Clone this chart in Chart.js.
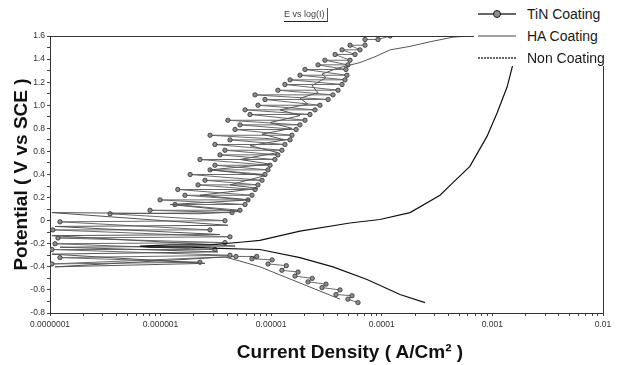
<!DOCTYPE html>
<html>
<head>
<meta charset="utf-8">
<script src="https://cdn.jsdelivr.net/npm/chart.js@4.4.1/dist/chart.umd.min.js"></script>
<style>
  html, body { margin: 0; padding: 0; background: #fff; }
  #wrap { position: relative; width: 620px; height: 365px; overflow: hidden; }
  #plotTitle { position: absolute; left: 284px; top: 8px; font: 9px "Liberation Sans", Arial, sans-serif; color: #444;
    border-bottom: 1.5px solid #222; border-right: 1px solid #555; padding: 0 2px 1px 0; line-height: 12px; }
  #xTitle { position: absolute; left: 350px; top: 340px; transform: translateX(-50%); white-space: nowrap;
    font: bold 19px "Liberation Sans", Arial, sans-serif; color: #111; line-height: 24px; }
  #legend { position: absolute; left: 474px; top: 0; width: 146px; height: 66px; background: #fff; }
  .lg-row { position: absolute; left: 0; height: 20px; width: 146px; }
  .lg-row svg { position: absolute; left: 2px; top: 0; }
  .lg-row span { position: absolute; left: 53px; top: 1px; font: 14px "Liberation Sans", Arial, sans-serif; color: #1a1a1a; white-space: nowrap; line-height: 18px; }
</style>
</head>
<body>
<div id="wrap">
  <canvas id="c" width="620" height="365"></canvas>
  <div id="plotTitle">E vs log(I)</div>
  <div id="xTitle">Current Density ( A/Cm² )</div>
  <div id="legend"></div>
</div>
<script>
// ---- Data (current density A/cm², potential V vs SCE) ----
const seriesNames = ['TiN Coating', 'HA Coating', 'Non Coating'];

const tinCurrent = [
  6.09e-5, 4.94e-5, 5.38e-5, 3.85e-5, 4.19e-5, 2.88e-5, 3.13e-5, 2.15e-5, 2.35e-5, 1.64e-5,
  1.75e-5, 1.25e-5, 1.37e-5, 9.36e-6, 1.02e-5, 6.7e-6, 7.4e-6, 4.8e-6,
  1.04e-7, 2.27e-6, 1.23e-7, 4.24e-6, 1.04e-7, 3.1e-6, 1.11e-7, 3.82e-6, 1.18e-7, 4.24e-6,
  1.06e-7, 2.8e-6, 1.23e-7, 3.82e-6, 3.49e-7, 4.43e-6,
  8.02e-7, 5.22e-6, 1.35e-6, 5.80e-6, 9.88e-7, 6.17e-6, 1.66e-6, 6.70e-6, 1.43e-6, 7.14e-6,
  2.18e-6, 7.6e-6, 2.52e-6, 8.26e-6, 1.85e-6, 8.79e-6, 2.80e-6, 9.36e-6, 3.10e-6, 9.76e-6,
  2.27e-6, 1.08e-5, 3.44e-6, 1.15e-5, 3.82e-6, 1.25e-5, 3.10e-6, 1.33e-5, 4.24e-6, 1.48e-5,
  2.80e-6, 1.54e-5, 4.71e-6, 1.68e-5, 5.22e-6, 1.82e-5, 4.06e-6, 2.02e-5, 6.43e-6, 2.24e-5,
  5.80e-6, 2.49e-5, 7.6e-6, 2.76e-5, 8.79e-6, 3.27e-5, 7.14e-6, 3.62e-5, 1.15e-5, 4.02e-5,
  1.33e-5, 4.37e-5, 1.48e-5, 4.65e-5, 1.82e-5, 4.84e-5, 2.02e-5, 4.74e-5, 2.65e-5, 4.94e-5,
  3.06e-5, 5.16e-5, 3.78e-5, 5.73e-5, 4.37e-5, 6.35e-5, 5.16e-5, 7.05e-5, 7.05e-5, 9.24e-5,
  1.19e-4
];
const tinPotential = [
  -0.71, -0.68, -0.65, -0.64, -0.60, -0.58, -0.55, -0.53, -0.50, -0.48,
  -0.445, -0.43, -0.39, -0.375, -0.34, -0.33, -0.31, -0.31,
  -0.375, -0.36, -0.32, -0.30, -0.25, -0.25, -0.20, -0.19, -0.15, -0.14,
  -0.08, -0.08, -0.01, 0.00, 0.06, 0.07,
  0.09, 0.09, 0.14, 0.14, 0.18, 0.18, 0.22, 0.22, 0.27, 0.27,
  0.31, 0.31, 0.35, 0.35, 0.40, 0.40, 0.44, 0.44, 0.48, 0.48,
  0.53, 0.53, 0.57, 0.57, 0.61, 0.61, 0.66, 0.66, 0.70, 0.70,
  0.74, 0.74, 0.79, 0.79, 0.83, 0.83, 0.87, 0.87, 0.92, 0.92,
  0.96, 0.96, 1.00, 1.00, 1.05, 1.05, 1.09, 1.09, 1.13, 1.13,
  1.18, 1.18, 1.22, 1.22, 1.26, 1.26, 1.31, 1.31, 1.35, 1.35,
  1.39, 1.39, 1.44, 1.44, 1.48, 1.48, 1.52, 1.52, 1.57, 1.57,
  1.60
];

const haCurrent = [
  4.19e-5, 2.76e-5, 1.82e-5, 1.2e-5, 7.92e-6, 5.22e-6, 3.82e-6,
  1.11e-7, 2.52e-6, 1.04e-7, 3.30e-6, 1.23e-7, 4.71e-6, 1.04e-7, 3.44e-6, 1.11e-7, 4.06e-6,
  1.04e-7, 2.27e-6,
  5.22e-6, 1.22e-6, 6.43e-6, 2.27e-6, 7.6e-6, 4.24e-6, 8.79e-6, 2.8e-6, 9.76e-6, 5.22e-6,
  1.15e-5, 6.43e-6, 1.33e-5, 8.26e-6, 1.54e-5, 9.76e-6, 1.82e-5, 1.2e-5, 2.15e-5, 1.82e-5,
  2.65e-5, 2.34e-5, 3.13e-5, 2.88e-5, 3.94e-5, 6.35e-5, 8.68e-5, 1.19e-4, 1.80e-4, 2.73e-4,
  4.4e-4, 6.27e-4
];
const haPotential = [
  -0.68, -0.61, -0.54, -0.47, -0.40, -0.35, -0.315,
  -0.40, -0.37, -0.29, -0.27, -0.23, -0.22, -0.13, -0.12, -0.05, -0.04,
  0.07, 0.06,
  0.08, 0.14, 0.18, 0.22, 0.28, 0.31, 0.39, 0.44, 0.49, 0.53,
  0.59, 0.65, 0.70, 0.75, 0.80, 0.85, 0.91, 0.96, 1.01, 1.06,
  1.11, 1.17, 1.24, 1.27, 1.32, 1.37, 1.42, 1.48, 1.51, 1.55,
  1.59, 1.60
];

const nonCurrent = [
  2.46e-4, 1.46e-4, 7.35e-5, 3.62e-5, 1.82e-5, 7.9e-6, 3.44e-6, 1.85e-6, 8.0e-7, 6.5e-7,
  1.22e-6, 2.8e-6, 5.56e-6, 7.9e-6, 1.82e-5, 5.15e-5, 9.6e-5, 1.8e-4, 3.36e-4, 4.4e-4,
  6.26e-4, 8.93e-4, 1.10e-3, 1.36e-3, 1.50e-3, 1.62e-3, 1.75e-3
];
const nonPotential = [
  -0.71, -0.64, -0.51, -0.40, -0.32, -0.25, -0.24, -0.23, -0.23, -0.22,
  -0.21, -0.21, -0.185, -0.17, -0.09, -0.02, 0.01, 0.07, 0.22, 0.33,
  0.47, 0.73, 0.93, 1.16, 1.32, 1.45, 1.60
];

// ---- Axis tick labels ----
const xTickValues = [1e-7, 1e-6, 1e-5, 1e-4, 1e-3, 1e-2];
const xTickLabels = ['0.0000001', '0.000001', '0.00001', '0.0001', '0.001', '0.01'];
const yTickValues = [-0.8, -0.6, -0.4, -0.2, 0, 0.2, 0.4, 0.6, 0.8, 1.0, 1.2, 1.4, 1.6];
const yTickLabels = ['-0.8', '-0.6', '-0.4', '-0.2', '0', '0.2', '0.4', '0.6', '0.8', '1.0', '1.2', '1.4', '1.6'];

function pts(xs, ys) { return xs.map((x, i) => ({ x: x, y: ys[i] })); }

const FONT = '"Liberation Sans", Arial, sans-serif';

const frame = {
  id: 'frame',
  afterDatasetsDraw(chart) {
    const a = chart.chartArea, ctx = chart.ctx;
    ctx.save();
    ctx.strokeStyle = '#333';
    ctx.lineWidth = 1;
    ctx.beginPath();
    ctx.moveTo(a.left, a.top + 0.5);
    ctx.lineTo(a.right + 0.5, a.top + 0.5);
    ctx.lineTo(a.right + 0.5, a.bottom);
    ctx.stroke();
    ctx.restore();
  }
};

new Chart(document.getElementById('c'), {
  type: 'scatter',
  data: {
    datasets: [
      {
        label: seriesNames[0], data: pts(tinCurrent, tinPotential), showLine: true, order: 3,
        borderColor: '#6a6a6a', borderWidth: 1, tension: 0,
        pointRadius: 2.2, pointBackgroundColor: '#8c8c8c', pointBorderColor: '#222', pointBorderWidth: 0.7
      },
      {
        label: seriesNames[1], data: pts(haCurrent, haPotential), showLine: true, order: 2,
        borderColor: '#555', borderWidth: 1, tension: 0, pointRadius: 0
      },
      {
        label: seriesNames[2], data: pts(nonCurrent, nonPotential), showLine: true, order: 1,
        borderColor: '#111', borderWidth: 1.2, tension: 0, pointRadius: 0
      }
    ]
  },
  options: {
    responsive: false, animation: false, devicePixelRatio: 1,
    layout: { padding: { top: 36, right: 17, left: 0, bottom: 0 } },
    plugins: { legend: { display: false }, tooltip: { enabled: false }, title: { display: false } },
    scales: {
      x: {
        type: 'logarithmic', min: 1e-7, max: 1e-2,
        afterFit(s) { s.height = 52; },
        afterBuildTicks(s) {
          const t = [];
          xTickValues.forEach((d, i) => {
            t.push({ value: d });
            if (i < xTickValues.length - 1) for (let m = 2; m <= 9; m++) t.push({ value: d * m });
          });
          s.ticks = t;
        },
        grid: { display: true, drawOnChartArea: false, drawTicks: true, tickLength: 3, color: '#444' },
        border: { display: true, color: '#333', width: 1 },
        ticks: {
          autoSkip: false, maxRotation: 0, minRotation: 0, padding: 4, color: '#333',
          font: { family: FONT, size: 8.5 },
          callback(v) {
            const i = xTickValues.findIndex(d => Math.abs(Math.log10(d) - Math.log10(v)) < 1e-6);
            return i >= 0 ? xTickLabels[i] : '';
          }
        },
        title: { display: false }
      },
      y: {
        type: 'linear', min: -0.8, max: 1.6,
        afterFit(s) { s.width = 50; },
        grid: { display: true, drawOnChartArea: false, drawTicks: true, tickLength: 3, color: '#444' },
        border: { display: true, color: '#333', width: 1 },
        ticks: {
          stepSize: 0.1, autoSkip: false, padding: 2, color: '#333',
          font: { family: FONT, size: 8.5 },
          callback(v) {
            const i = yTickValues.findIndex(d => Math.abs(d - v) < 1e-6);
            return i >= 0 ? yTickLabels[i] : '';
          }
        },
        title: { display: true, text: 'Potential ( V vs SCE )', color: '#111',
          font: { family: FONT, size: 19, weight: 'bold' }, padding: { top: 10, bottom: 0 } }
      }
    }
  },
  plugins: [frame]
});

// ---- Legend (overlay box, like the reference) ----
const legend = document.getElementById('legend');
const rowTops = [4, 26, 48];
seriesNames.forEach((name, i) => {
  const row = document.createElement('div');
  row.className = 'lg-row';
  row.style.top = rowTops[i] + 'px';
  let svg = '<svg width="44" height="20">';
  if (i === 0) {
    svg += '<line x1="2" y1="10" x2="40" y2="10" stroke="#333" stroke-width="1.6"/>' +
           '<circle cx="21" cy="10" r="3.5" fill="#8c8c8c" stroke="#1e1e1e" stroke-width="1"/>';
  } else if (i === 1) {
    svg += '<line x1="2" y1="10" x2="40" y2="10" stroke="#444" stroke-width="1"/>';
  } else {
    svg += '<line x1="2" y1="10" x2="40" y2="10" stroke="#333" stroke-width="1.4" stroke-dasharray="2,1"/>';
  }
  svg += '</svg>';
  row.innerHTML = svg + '<span>' + name + '</span>';
  legend.appendChild(row);
});
</script>
</body>
</html>
